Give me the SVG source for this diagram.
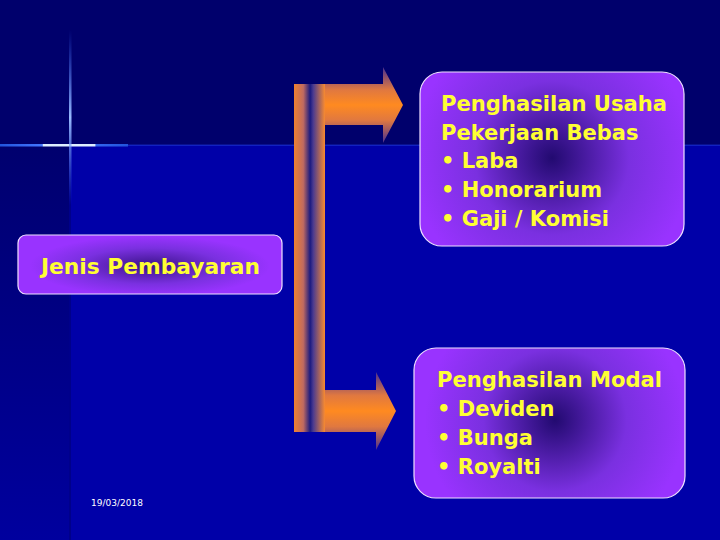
<svg xmlns="http://www.w3.org/2000/svg" width="720" height="540" viewBox="0 0 720 540">
<defs>
<linearGradient id="leftStrip" x1="0" y1="0" x2="0" y2="1">
<stop offset="0" stop-color="#00006e"/>
<stop offset="1" stop-color="#00009e"/>
</linearGradient>
<linearGradient id="vline" x1="0" y1="0" x2="0" y2="1">
<stop offset="0" stop-color="#3366ff" stop-opacity="0"/>
<stop offset="0.5" stop-color="#99bbff"/>
<stop offset="1" stop-color="#3366ff" stop-opacity="0"/>
</linearGradient>
<linearGradient id="hline" x1="0" y1="0" x2="1" y2="0">
<stop offset="0" stop-color="#2255dd"/>
<stop offset="0.33" stop-color="#4477ff"/>
<stop offset="0.34" stop-color="#ddeeff"/>
<stop offset="0.74" stop-color="#ddeeff"/>
<stop offset="0.75" stop-color="#3366ee"/>
<stop offset="1" stop-color="#2255dd"/>
</linearGradient>
<linearGradient id="bar" x1="0" y1="0" x2="1" y2="0">
<stop offset="0" stop-color="#f08030"/>
<stop offset="0.3" stop-color="#c06a60"/>
<stop offset="0.52" stop-color="#1a1a80"/>
<stop offset="0.62" stop-color="#4a3a90"/>
<stop offset="1" stop-color="#f88a30"/>
</linearGradient>
<linearGradient id="arrowTop" x1="0" y1="67" x2="0" y2="143" gradientUnits="userSpaceOnUse">
<stop offset="0" stop-color="#4a3090"/>
<stop offset="0.3" stop-color="#e07840"/>
<stop offset="0.5" stop-color="#ff8a20"/>
<stop offset="0.7" stop-color="#e07840"/>
<stop offset="1" stop-color="#4a3090"/>
</linearGradient>
<linearGradient id="arrowBot" x1="0" y1="372" x2="0" y2="450" gradientUnits="userSpaceOnUse">
<stop offset="0" stop-color="#4a3090"/>
<stop offset="0.3" stop-color="#e07840"/>
<stop offset="0.5" stop-color="#ff8a20"/>
<stop offset="0.7" stop-color="#e07840"/>
<stop offset="1" stop-color="#4a3090"/>
</linearGradient>
<radialGradient id="glowTop" cx="552" cy="158" r="140" gradientUnits="userSpaceOnUse">
<stop offset="0" stop-color="#220a70"/>
<stop offset="0.55" stop-color="#7a30e0"/>
<stop offset="1" stop-color="#9933ff"/>
</radialGradient>
<radialGradient id="glowBot" cx="555" cy="420" r="130" gradientUnits="userSpaceOnUse">
<stop offset="0" stop-color="#220a70"/>
<stop offset="0.55" stop-color="#7a30e0"/>
<stop offset="1" stop-color="#9933ff"/>
</radialGradient>
<radialGradient id="glowJenis" cx="150" cy="266" r="120" gradientUnits="userSpaceOnUse" gradientTransform="translate(150 266) scale(1 0.25) translate(-150 -266)">
<stop offset="0" stop-color="#3a1488"/>
<stop offset="0.6" stop-color="#7a30e0"/>
<stop offset="1" stop-color="#9933ff"/>
</radialGradient>
</defs>
<style>
.box{stroke:#f0e0ff;stroke-width:1.2}
.t{font-family:"DejaVu Sans","Verdana",sans-serif;font-weight:bold;font-size:21px;fill:#ffff33}
.date{font-family:"DejaVu Sans",sans-serif;font-size:9px;fill:#ffffff}
</style>
<g id="background">
<rect x="0" y="0" width="720" height="540" fill="#00006c"/>
<rect x="0" y="145" width="720" height="395" fill="#0000a8"/>
<rect x="0" y="145" width="70" height="395" fill="url(#leftStrip)"/>
<rect x="69" y="145" width="2" height="395" fill="#00008a"/>
<rect x="0" y="144.5" width="720" height="1.5" fill="#1a2fcc" opacity="0.7"/>
<rect x="0" y="144" width="128" height="2.5" fill="url(#hline)"/>
<rect x="69" y="30" width="2.5" height="175" fill="url(#vline)"/>
</g>
<g id="connectors">
<path d="M325,84 H383 V67 L403,105 L383,143 V125 H325 Z" fill="url(#arrowTop)"/>
<path d="M325,390 H376 V372 L396,411 L376,450 V432 H325 Z" fill="url(#arrowBot)"/>
<rect x="294" y="84" width="31" height="348" fill="url(#bar)"/>
</g>
<g id="node-usaha">
<rect class="box" x="420" y="72" width="264" height="174" rx="22" fill="url(#glowTop)"/>
<text class="t" x="441" y="111" textLength="226" lengthAdjust="spacingAndGlyphs">Penghasilan Usaha</text>
<text class="t" x="441" y="140">Pekerjaan Bebas</text>
<text class="t" x="441" y="168">• Laba</text>
<text class="t" x="441" y="197">• Honorarium</text>
<text class="t" x="441" y="226">• Gaji / Komisi</text>
</g>
<g id="node-jenis">
<rect class="box" x="18" y="235" width="264" height="59" rx="8" fill="url(#glowJenis)"/>
<text class="t" x="41" y="274" textLength="219" lengthAdjust="spacingAndGlyphs">Jenis Pembayaran</text>
</g>
<g id="node-modal">
<rect class="box" x="414" y="348" width="271" height="150" rx="22" fill="url(#glowBot)"/>
<text class="t" x="437" y="387" textLength="225" lengthAdjust="spacingAndGlyphs">Penghasilan Modal</text>
<text class="t" x="437" y="416">• Deviden</text>
<text class="t" x="437" y="445">• Bunga</text>
<text class="t" x="437" y="474">• Royalti</text>
</g>
<text class="date" x="91" y="506">19/03/2018</text>
</svg>
